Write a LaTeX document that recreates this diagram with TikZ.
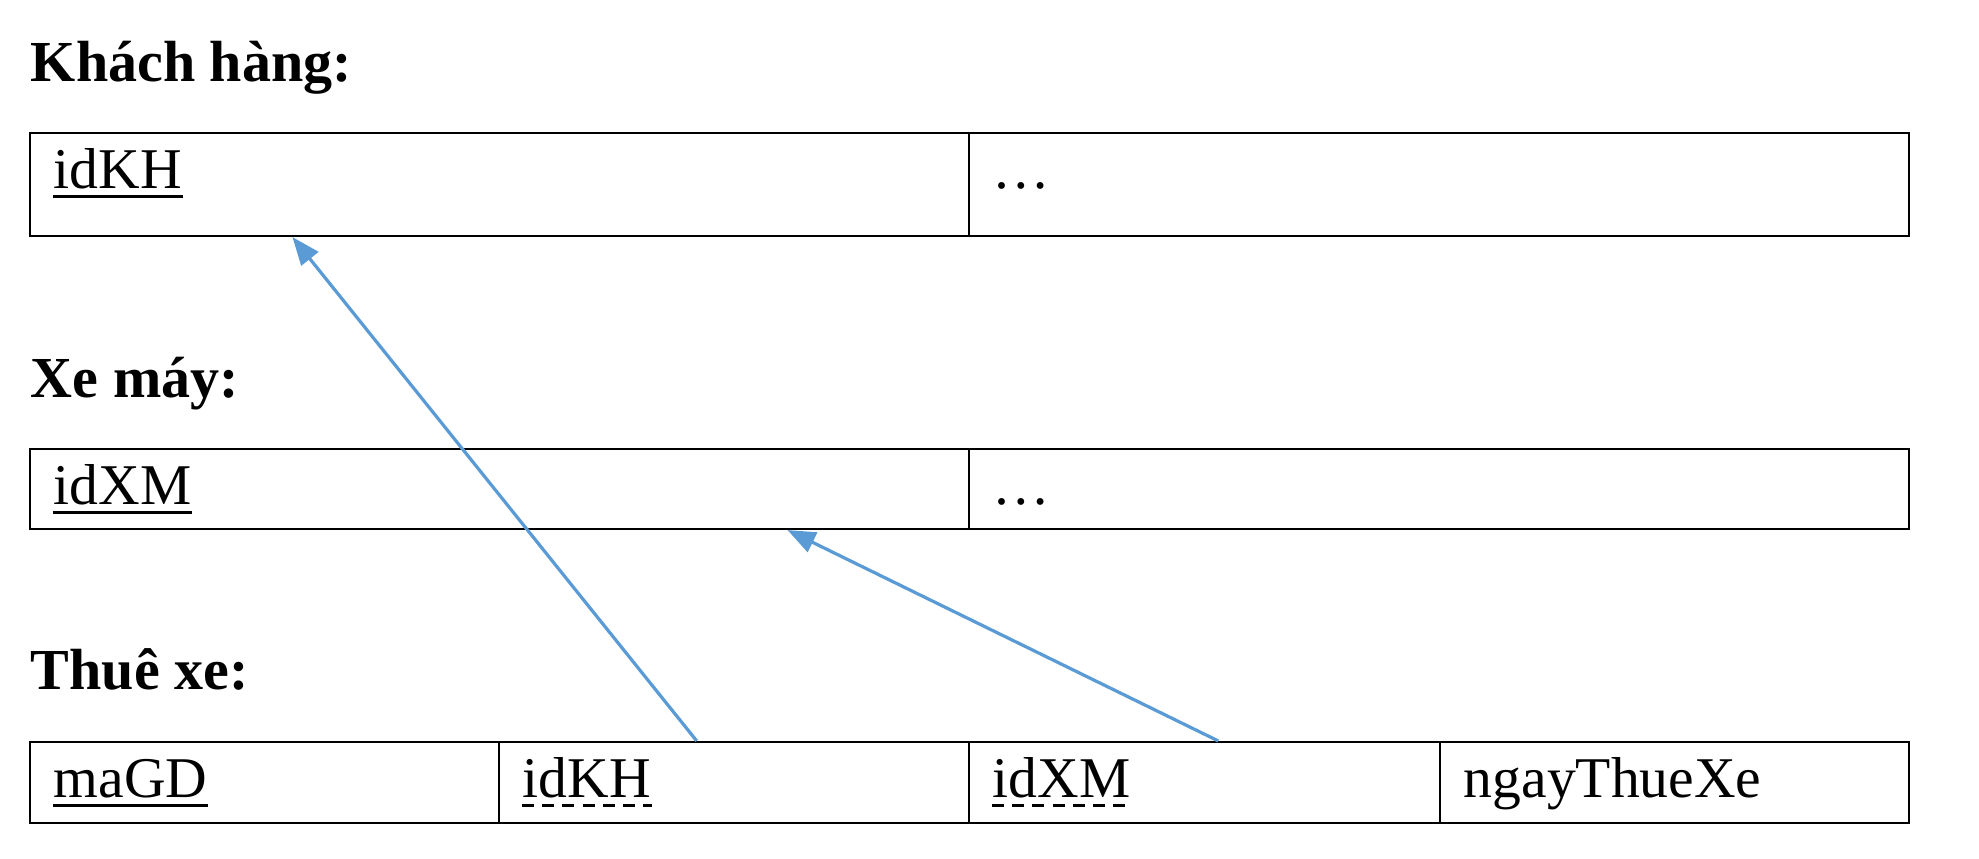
\documentclass[tikz,border=0pt]{standalone}
\usepackage{fontspec}
\setmainfont{Liberation Serif}
\usepackage{xcolor}
\usetikzlibrary{positioning, fit, calc, arrows.meta}
\definecolor{fkblue}{RGB}{91,155,213}

\begin{document}
\begin{tikzpicture}[x=0.2326pt, y=-0.2326pt]
	\tikzstyle{cell}=[draw=black, line width=0.5pt, inner sep=0pt]
	\tikzstyle{title}=[anchor=base west, inner sep=0pt, font=\fontsize{13.5}{16}\selectfont\bfseries]
	\tikzstyle{field}=[anchor=base west, inner sep=0pt, font=\fontsize{13.4}{15}\selectfont]
	\tikzstyle{pk}=[line width=0.7pt]
	\tikzstyle{fkline}=[line width=0.7pt, dash pattern=on 2.8pt off 1.9pt]
	\tikzstyle{fk}=[draw=fkblue, line width=0.75pt, -{Triangle[length=6.5pt, width=5pt, fill=fkblue]}]
	\useasboundingbox (0,0) rectangle (1979,859);
	% Khach hang
	\node[title](t1) at (30,82){Khách hàng:};
	\node[cell, fit={(30,133) (969,236)}](kh1){};
	\node[cell, fit={(969,133) (1909,236)}](kh2){};
	\node[field](kh1t) at (53,189){idKH};
	\node[field](kh2t) at (992,189){…};
	% Xe may
	\node[title](t2) at (30,398){Xe máy:};
	\node[cell, fit={(30,449) (969,529)}](xm1){};
	\node[cell, fit={(969,449) (1909,529)}](xm2){};
	\node[field](xm1t) at (53,505){idXM};
	\node[field](xm2t) at (992,505){…};
	% Thue xe
	\node[title](t3) at (30,690){Thuê xe:};
	\node[cell, fit={(30,742) (499,823)}](th1){};
	\node[cell, fit={(499,742) (969,823)}](th2){};
	\node[cell, fit={(969,742) (1440,823)}](th3){};
	\node[cell, fit={(1440,742) (1909,823)}](th4){};
	\node[field](th1t) at (53,798){maGD};
	\node[field](th2t) at (522,798){idKH};
	\node[field](th3t) at (992,798){idXM};
	\node[field](th4t) at (1463,798){ngayThueXe};
	% keys
	\draw[pk] ([yshift=-1.7pt]kh1t.base west) -- ([yshift=-1.7pt]kh1t.base east);
	\draw[pk] ([yshift=-1.7pt]xm1t.base west) -- ([yshift=-1.7pt]xm1t.base east);
	\draw[pk] ([yshift=-1.7pt]th1t.base west) -- ([yshift=-1.7pt]th1t.base east);
	\draw[fkline] ([yshift=-1.7pt]th2t.base west) -- ([yshift=-1.7pt]th2t.base east);
	\draw[fkline] ([yshift=-1.7pt]th3t.base west) -- ([yshift=-1.7pt]th3t.base east);
	% references
	\coordinate (a1) at ($(th2.north west)!0.421!(th2.north east)$);
	\coordinate (b1) at ($(kh1.south west)!0.28!(kh1.south east)$);
	\coordinate (a2) at ($(th3.north west)!0.529!(th3.north east)$);
	\coordinate (b2) at ($(xm1.south west)!0.806!(xm1.south east)$);
	\draw[fk] (a1) -- (b1);
	\draw[fk] (a2) -- (b2);
\end{tikzpicture}
\end{document}
